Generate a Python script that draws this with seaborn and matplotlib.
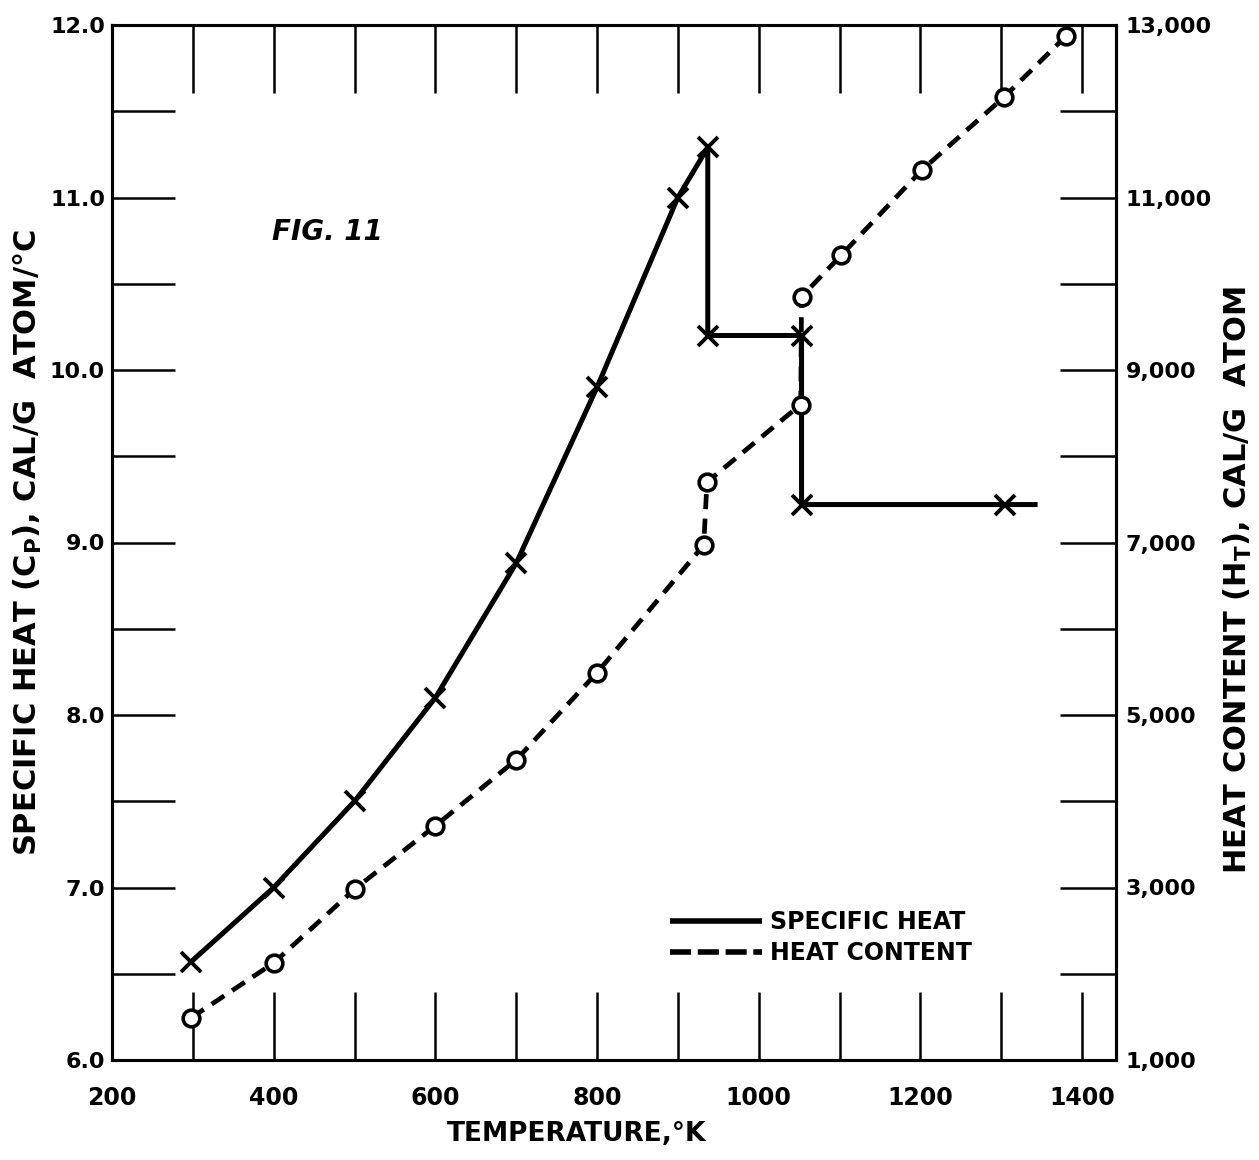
import numpy as np
import pandas as pd
import matplotlib
matplotlib.use("Agg")
import matplotlib.pyplot as plt
from matplotlib.lines import Line2D
from matplotlib.ticker import FixedLocator, FuncFormatter
import seaborn as sns

# ---- data ----
# Specific heat (left axis, cal/g-atom/°C), solid line with x markers
cp_temp = [298, 400, 500, 600, 700, 800, 900, 937, 937, 1053, 1053, 1305, 1345]
cp_value = [6.57, 7.00, 7.50, 8.10, 8.88, 9.90, 11.00, 11.29, 10.20, 10.20, 9.22, 9.22, 9.22]
cp_marked = [0, 1, 2, 3, 4, 5, 6, 7, 8, 9, 10, 11]   # last point is the line end only

# Heat content (right axis, cal/g-atom), dashed line with open circles
hc_temp = [298, 400, 500, 600, 700, 800, 932, 936, 1052, 1053, 1102, 1202, 1303, 1380]
hc_value = [1490, 2125, 2980, 3715, 4480, 5490, 6970, 7700, 8600, 9850, 10330, 11320, 12160, 12870]

x_major = [200, 400, 600, 800, 1000, 1200, 1400]
x_minor = [300, 500, 700, 900, 1100, 1300]
cp_major = [6.0, 7.0, 8.0, 9.0, 10.0, 11.0, 12.0]
cp_minor = [6.5, 7.5, 8.5, 9.5, 10.5, 11.5]
hc_major = [1000, 3000, 5000, 7000, 9000, 11000, 13000]
hc_minor = [2000, 4000, 6000, 8000, 10000, 12000]

legend_labels = ["SPECIFIC HEAT", "HEAT CONTENT"]

sns.set_theme(style="white")
plt.rcParams["font.family"] = ["DejaVu Sans"]
plt.rcParams["font.weight"] = "bold"
plt.rcParams["mathtext.fontset"] = "dejavusans"
plt.rcParams["mathtext.default"] = "bf"
plt.rcParams["text.color"] = "black"
plt.rcParams["axes.labelcolor"] = "black"
plt.rcParams["xtick.color"] = "black"
plt.rcParams["ytick.color"] = "black"

W, H = 1259, 1160
fig = plt.figure(figsize=(W / 100, H / 100), dpi=100)
L, R, T, B = 112, 1116, 25, 1060
ax = fig.add_axes([L / W, 1 - B / H, (R - L) / W, (B - T) / H])
ax2 = ax.twinx()

cp_df = pd.DataFrame({"T": cp_temp, "Cp": cp_value})
hc_df = pd.DataFrame({"T": hc_temp, "H": hc_value})

sns.lineplot(data=cp_df, x="T", y="Cp", ax=ax, sort=False, estimator=None,
             color="black", linewidth=3.6, marker="x", markersize=14,
             mew=2.8, mec="black", markevery=cp_marked, solid_capstyle="butt")
sns.lineplot(data=hc_df, x="T", y="H", ax=ax2, sort=False, estimator=None,
             color="black", linewidth=3.4, linestyle=(0, (3.2, 2.0)),
             marker="o", markersize=12, mfc="white", mec="black", mew=2.6,
             dash_capstyle="butt")

ax.set_xlim(200, 1442)
ax.set_ylim(6, 12)
ax2.set_ylim(1000, 13000)

# ticks
ax.xaxis.set_major_locator(FixedLocator(x_major))
ax.xaxis.set_minor_locator(FixedLocator(x_minor))
ax.yaxis.set_major_locator(FixedLocator(cp_major))
ax.yaxis.set_minor_locator(FixedLocator(cp_minor))
ax2.yaxis.set_major_locator(FixedLocator(hc_major))
ax2.yaxis.set_minor_locator(FixedLocator(hc_minor))
ax.yaxis.set_major_formatter(FuncFormatter(lambda v, p: f"{v:.1f}"))
ax2.yaxis.set_major_formatter(FuncFormatter(lambda v, p: f"{int(v):,}"))

ax.tick_params(axis="x", which="both", direction="in", length=49, width=1.8,
               top=True, bottom=True, labeltop=False, labelsize=17, pad=19,
               colors="black")
ax.tick_params(axis="y", which="both", direction="in", length=45, width=1.8,
               left=True, right=False, labelsize=16, pad=5, colors="black")
ax2.tick_params(axis="y", which="both", direction="in", length=40, width=1.8,
                right=True, left=False, labelsize=16, pad=7, colors="black")
for a in (ax, ax2):
    for lab in a.get_xticklabels() + a.get_yticklabels():
        lab.set_fontweight("bold")
    for s in a.spines.values():
        s.set_color("black")
        s.set_linewidth(2.2)
        s.set_visible(True)

ax.set_xlabel("TEMPERATURE,°K", fontsize=19, fontweight="bold", color="black")
ax.xaxis.set_label_coords((577 - L) / (R - L), (B - 1121) / (B - T))
ax.set_ylabel("SPECIFIC HEAT (C$_P$), CAL/G  ATOM/°C", fontsize=22,
              fontweight="bold", color="black")
ax.yaxis.set_label_coords((44 - L) / (R - L), 0.5)
ax2.set_ylabel("HEAT CONTENT (H$_T$), CAL/G  ATOM", fontsize=22,
               fontweight="bold", color="black")
ax2.yaxis.set_label_coords((1222 - L) / (R - L), (B - 580) / (B - T))

ax.text((272 - L) / (R - L), (B - 232) / (B - T), "FIG. 11", transform=ax.transAxes,
        fontsize=20, fontweight="bold", fontstyle="italic", va="center", ha="left",
        color="black")

handles = [Line2D([], [], color="black", lw=4.0, solid_capstyle="butt"),
           Line2D([], [], color="black", lw=4.0, linestyle=(0, (3.8, 1.2)),
                  dash_capstyle="butt")]
leg = ax2.legend(handles, legend_labels, loc="upper left",
                 bbox_to_anchor=((670 - L) / (R - L), (B - 910) / (B - T)),
                 frameon=False, handlelength=3.9, handletextpad=0.35,
                 labelspacing=0.3, borderpad=0, borderaxespad=0,
                 prop={"size": 17, "weight": "bold"}, labelcolor="black")

fig.savefig("out.png", dpi=100, facecolor="white")
